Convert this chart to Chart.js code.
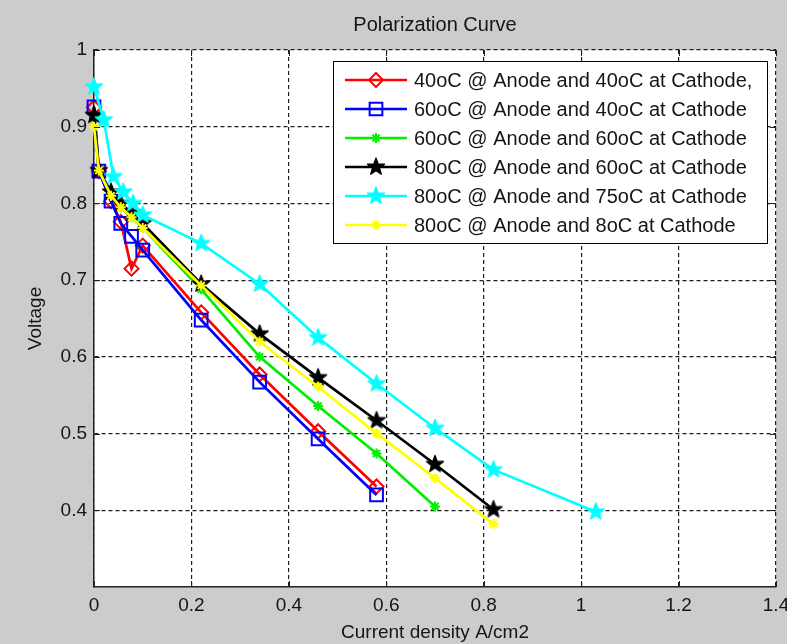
<!DOCTYPE html>
<html>
<head>
<meta charset="utf-8">
<title>Polarization Curve</title>
<script src="https://cdn.jsdelivr.net/npm/chart.js@4.4.1/dist/chart.umd.min.js"></script>
<style>
    html, body { margin: 0; padding: 0; background: #cccccc; }
    #wrap { width: 787px; height: 644px; }
</style>
</head>
<body>
<div id="wrap"><canvas id="polChart" width="787" height="644"></canvas></div>
<script>
// Current density (A/cm2) for each run
const xLow  = [0, 0.01, 0.035, 0.055, 0.077, 0.1, 0.22, 0.34, 0.46, 0.58];
const xMid  = [0, 0.01, 0.035, 0.055, 0.077, 0.1, 0.22, 0.34, 0.46, 0.58, 0.70];
const xHigh = [0, 0.01, 0.035, 0.055, 0.077, 0.1, 0.22, 0.34, 0.46, 0.58, 0.70, 0.82];
const xCyan = [0, 0.02, 0.04, 0.06, 0.08, 0.1, 0.22, 0.34, 0.46, 0.58, 0.70, 0.82, 1.03];

// Voltage for each run
const v40_40 = [0.925, 0.842, 0.803, 0.776, 0.715, 0.745, 0.658, 0.577, 0.503, 0.431];
const v60_40 = [0.926, 0.842, 0.803, 0.774, 0.757, 0.739, 0.648, 0.567, 0.493, 0.420];
const v60_60 = [0.912, 0.843, 0.810, 0.795, 0.782, 0.768, 0.688, 0.600, 0.536, 0.474, 0.405];
const v80_60 = [0.915, 0.843, 0.815, 0.800, 0.788, 0.774, 0.695, 0.630, 0.573, 0.517, 0.460, 0.401];
const v80_75 = [0.952, 0.909, 0.835, 0.815, 0.800, 0.785, 0.748, 0.695, 0.625, 0.565, 0.507, 0.453, 0.398];
const v80_80 = [0.900, 0.843, 0.810, 0.795, 0.782, 0.768, 0.693, 0.620, 0.561, 0.500, 0.442, 0.382];

const seriesLabels = [
    '40oC @ Anode and 40oC at Cathode,',
    '60oC @ Anode and 40oC at Cathode',
    '60oC @ Anode and 60oC at Cathode',
    '80oC @ Anode and 60oC at Cathode',
    '80oC @ Anode and 75oC at Cathode',
    '80oC @ Anode and 8oC at Cathode'
];

// Tick values
const xTicks = [0, 0.2, 0.4, 0.6, 0.8, 1, 1.2, 1.4];
const yTicks = [0.4, 0.5, 0.6, 0.7, 0.8, 0.9, 1];

const FONT = '"Liberation Sans", Arial, sans-serif';
const TEXT = '#151515';

// filled five point star, used as a point image
function starImage(color, r) {
    const c = document.createElement('canvas');
    const s = Math.ceil(2 * r + 4);
    c.width = s;
    c.height = s;
    const g = c.getContext('2d');
    g.translate(s / 2, s / 2);
    g.beginPath();
    for (let i = 0; i < 10; i++) {
        const rad = i % 2 === 0 ? r : r * 0.42;
        const a = -Math.PI / 2 + i * Math.PI / 5;
        g.lineTo(rad * Math.cos(a), rad * Math.sin(a));
    }
    g.closePath();
    g.fillStyle = color;
    g.fill();
    g.strokeStyle = color;
    g.lineWidth = 1.2;
    g.lineJoin = 'round';
    g.stroke();
    return c;
}

const makeSet = (i, xs, ys, color, style, radius) => ({
    label: seriesLabels[i],
    data: xs.map((x, k) => ({ x: x, y: ys[k] })),
    borderColor: color,
    backgroundColor: 'rgba(0,0,0,0)',
    pointBorderColor: color,
    pointBackgroundColor: 'rgba(0,0,0,0)',
    pointStyle: style,
    pointRadius: radius,
    pointBorderWidth: 2,
    borderWidth: 2.7,
    tension: 0,
    clip: false,
    order: 6 - i
});

const datasets = [
    makeSet(0, xLow, v40_40, '#ff0000', 'rectRot', 7),
    makeSet(1, xLow, v60_40, '#0000ff', 'rect', 9),
    makeSet(2, xMid, v60_60, '#00ee00', 'star', 5),
    makeSet(3, xHigh, v80_60, '#000000', starImage('#000000', 9), 9),
    makeSet(4, xCyan, v80_75, '#00ffff', starImage('#00ffff', 9), 9),
    makeSet(5, xHigh, v80_80, '#ffff00', 'star', 5)
];

// draw a legend marker the same way as on the plot
function drawMarker(ctx, ds, x, y) {
    const st = ds.pointStyle;
    const r = ds.pointRadius;
    ctx.save();
    ctx.strokeStyle = ds.pointBorderColor;
    ctx.lineWidth = ds.pointBorderWidth;
    ctx.beginPath();
    if (st instanceof HTMLCanvasElement) {
        ctx.drawImage(st, x - st.width / 2, y - st.height / 2);
    } else if (st === 'rectRot') {
        ctx.moveTo(x, y - r);
        ctx.lineTo(x + r, y);
        ctx.lineTo(x, y + r);
        ctx.lineTo(x - r, y);
        ctx.closePath();
        ctx.stroke();
    } else if (st === 'rect') {
        const h = r * Math.SQRT1_2;
        ctx.rect(x - h, y - h, 2 * h, 2 * h);
        ctx.stroke();
    } else {
        for (let k = 0; k < 4; k++) {
            const a = k * Math.PI / 4;
            ctx.moveTo(x - r * Math.cos(a), y - r * Math.sin(a));
            ctx.lineTo(x + r * Math.cos(a), y + r * Math.sin(a));
        }
        ctx.stroke();
    }
    ctx.restore();
}

const matlabLook = {
    id: 'matlabLook',
    beforeDraw(chart) {
        const { ctx, chartArea: a } = chart;
        ctx.save();
        ctx.fillStyle = '#ffffff';
        ctx.fillRect(a.left, a.top, a.right - a.left, a.bottom - a.top);
        ctx.restore();
    },
    afterDraw(chart) {
        const { ctx, chartArea: a } = chart;
        const xs = chart.scales.x, ys = chart.scales.y;
        ctx.save();

        // inward tick marks on all four sides
        ctx.strokeStyle = '#222';
        ctx.lineWidth = 1;
        ctx.beginPath();
        xTicks.forEach(v => {
            const px = Math.round(xs.getPixelForValue(v)) + 0.5;
            ctx.moveTo(px, a.bottom); ctx.lineTo(px, a.bottom - 6);
            ctx.moveTo(px, a.top); ctx.lineTo(px, a.top + 6);
        });
        yTicks.forEach(v => {
            const py = Math.round(ys.getPixelForValue(v)) + 0.5;
            ctx.moveTo(a.left, py); ctx.lineTo(a.left + 6, py);
            ctx.moveTo(a.right, py); ctx.lineTo(a.right - 6, py);
        });
        ctx.stroke();

        // title
        ctx.fillStyle = TEXT;
        ctx.font = '20px ' + FONT;
        ctx.textAlign = 'center';
        ctx.textBaseline = 'middle';
        ctx.fillText('Polarization Curve', (a.left + a.right) / 2, 25);

        // legend box
        const box = { left: 333.5, top: 61.5, right: 767.5, bottom: 243.5 };
        ctx.fillStyle = '#ffffff';
        ctx.fillRect(box.left, box.top, box.right - box.left, box.bottom - box.top);
        ctx.strokeStyle = '#000';
        ctx.lineWidth = 1;
        ctx.strokeRect(box.left, box.top, box.right - box.left, box.bottom - box.top);

        ctx.textAlign = 'left';
        chart.data.datasets.forEach((ds, i) => {
            const y = 80 + i * 29;
            ctx.strokeStyle = ds.borderColor;
            ctx.lineWidth = ds.borderWidth;
            ctx.beginPath();
            ctx.moveTo(345, y);
            ctx.lineTo(407, y);
            ctx.stroke();
            drawMarker(ctx, ds, 376, y);
            ctx.fillStyle = TEXT;
            ctx.font = '20px ' + FONT;
            ctx.fillText(ds.label, 414, y + 1);
        });
        ctx.restore();
    }
};

Chart.defaults.font.family = FONT;
Chart.defaults.color = TEXT;

const ctx = document.getElementById('polChart').getContext('2d');
const polChart = new Chart(ctx, {
    type: 'line',
    data: { datasets: datasets },
    options: {
        responsive: false,
        animation: false,
        layout: { padding: { top: 50, right: 10, bottom: 0, left: 0 } },
        plugins: {
            legend: { display: false },
            title: { display: false },
            tooltip: { enabled: false }
        },
        scales: {
            x: {
                type: 'linear',
                min: 0,
                max: 1.4,
                afterBuildTicks: s => { s.ticks = xTicks.map(v => ({ value: v })); },
                afterFit: s => { s.height = 57; s.paddingLeft = 0; s.paddingRight = 0; },
                ticks: {
                    font: { size: 19 },
                    padding: 7,
                    maxRotation: 0,
                    callback: v => String(v)
                },
                grid: { color: '#1e1e1e', lineWidth: 1.2, drawTicks: false },
                border: { display: true, color: '#222', width: 1.5, dash: [4, 3] },
                title: {
                    display: true,
                    text: 'Current density A/cm2',
                    font: { size: 19 },
                    padding: 0
                }
            },
            y: {
                type: 'linear',
                min: 0.3,
                max: 1,
                afterBuildTicks: s => { s.ticks = yTicks.map(v => ({ value: v })); },
                afterFit: s => { s.width = 94; s.paddingTop = 0; s.paddingBottom = 0; },
                ticks: {
                    font: { size: 19 },
                    padding: 7,
                    callback: v => String(v)
                },
                grid: { color: '#1e1e1e', lineWidth: 1.2, drawTicks: false },
                border: { display: true, color: '#222', width: 1.5, dash: [4, 3] },
                title: {
                    display: true,
                    text: 'Voltage',
                    font: { size: 19 },
                    padding: { top: 24, bottom: 24 }
                }
            }
        }
    },
    plugins: [matlabLook]
});
</script>
</body>
</html>
